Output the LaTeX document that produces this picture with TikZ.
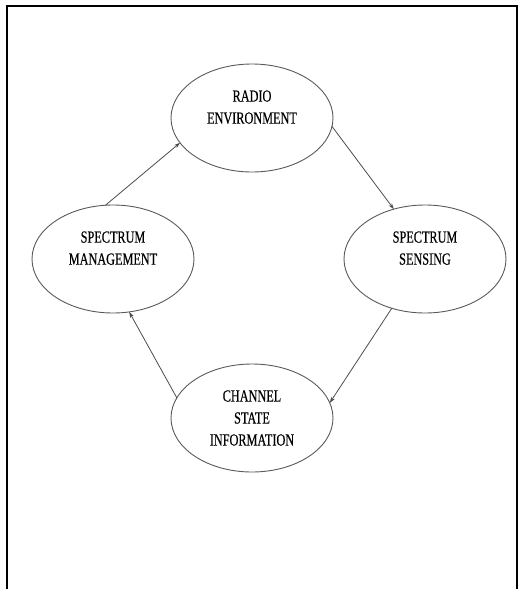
\documentclass[tikz,border=0pt]{standalone}
\usepackage{fontspec}
\setmainfont{Liberation Serif}
\newfontfamily\phasefont[FakeStretch=0.72,FakeBold=0.4]{Liberation Serif}
\usetikzlibrary{arrows.meta,shapes.geometric}
\tikzset{phase/.style={draw=black!65,line width=0.9pt,ellipse,inner sep=0pt,outer sep=0pt,minimum width=162pt,minimum height=108pt,align=center,font=\phasefont\fontsize{17}{22}\selectfont},
flow/.style={draw=black!70,line width=0.8pt,-{Stealth[length=6pt,width=4pt]}}}
\begin{document}
\begin{tikzpicture}[x=1pt,y=-1pt]
\useasboundingbox (0,0) rectangle (518,589);
\draw[line width=2pt] (7,589) -- (7,6) -- (517,6) -- (517,589);
\draw (252,118) node[phase] (radio) {RADIO\\ENVIRONMENT\\~};
\draw (113,259) node[phase] (mgmt) {SPECTRUM\\MANAGEMENT\\~};
\draw (425,259) node[phase] (sense) {SPECTRUM\\SENSING\\~};
\draw (252,418) node[phase] (csi) {CHANNEL\\STATE\\INFORMATION};
\draw[flow] (radio.-6) -- (sense.122);
\draw[flow] (sense.236) -- (csi.11);
\draw[flow] (csi.165) -- (mgmt.287);
\draw[flow] (mgmt.98) -- (radio.199);
\end{tikzpicture}
\end{document}
